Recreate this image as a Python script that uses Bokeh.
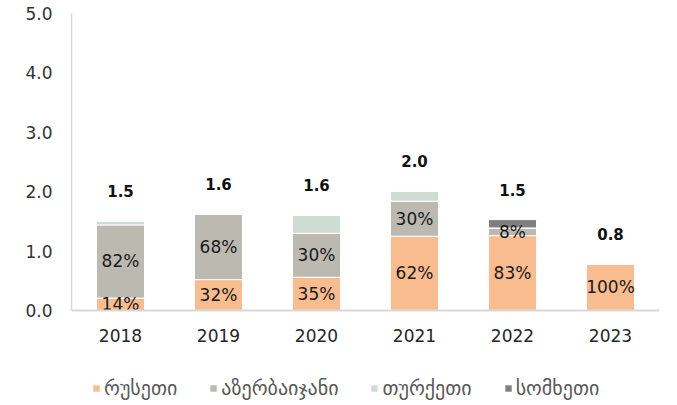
from bokeh.plotting import figure
from bokeh.layouts import column
from bokeh.models import ColumnDataSource, Range1d, FactorRange, Legend, LegendItem, NumeralTickFormatter, FixedTicker
from bokeh.embed import file_html
from bokeh.resources import INLINE
from bokeh.core.properties import value

years = ["2018", "2019", "2020", "2021", "2022", "2023"]
russia = [0.21, 0.52, 0.56, 1.25, 1.26, 0.78]
azerbaijan = [1.23, 1.10, 0.74, 0.59, 0.13, 0.0]
turkey = [0.06, 0.0, 0.30, 0.17, 0.0, 0.0]
armenia = [0.0, 0.0, 0.0, 0.0, 0.14, 0.0]
totals = ["1.5", "1.6", "1.6", "2.0", "1.5", "0.8"]
russia_pct = ["14%", "32%", "35%", "62%", "83%", "100%"]
azer_pct = ["82%", "68%", "30%", "30%", "8%", ""]
series_names = ["რუსეთი", "აზერბაიჯანი", "თურქეთი", "სომხეთი"]
colors = ["#F8BC8E", "#BCB9B0", "#CFDCD3", "#7F7F7F"]
y_ticks = [0, 1, 2, 3, 4, 5]

FONT = "DejaVu Sans"

data = dict(x=years, russia=russia, azerbaijan=azerbaijan, turkey=turkey, armenia=armenia)
src = ColumnDataSource(data)

p = figure(x_range=FactorRange(*years, range_padding=0), y_range=Range1d(0, 5),
           width=669, height=367, output_backend="svg", toolbar_location=None,
           min_border_left=71, min_border_right=10, min_border_top=13, min_border_bottom=57)
p.outline_line_color = None
p.xgrid.grid_line_color = None
p.ygrid.grid_line_color = None

stack_keys = ["russia", "azerbaijan", "turkey", "armenia"]
rs = p.vbar_stack(stack_keys, x="x", width=0.49, color=colors, line_color="white",
                  line_width=1, source=src)

# totals on top
tot_vals = [a + b + c + d for a, b, c, d in zip(russia, azerbaijan, turkey, armenia)]
tsrc = ColumnDataSource(dict(x=years, y=tot_vals, t=totals))
p.text(x="x", y="y", text="t", source=tsrc, y_offset=-30, text_align="center",
       text_baseline="middle", text_font=value(FONT), text_font_style="bold",
       text_font_size="15px", text_color="#111111")

# percent labels at segment middles
rmid = [r / 2 for r in russia]
amid = [r + a / 2 for r, a in zip(russia, azerbaijan)]
psrc = ColumnDataSource(dict(x=years + years, y=rmid + amid, t=russia_pct + azer_pct))
p.text(x="x", y="y", text="t", source=psrc, text_align="center",
       text_baseline="middle", text_font=value(FONT), text_font_size="17px",
       text_color="#1a1a1a")

# axes
p.yaxis.ticker = FixedTicker(ticks=y_ticks)
p.yaxis.formatter = NumeralTickFormatter(format="0.0")
p.yaxis.major_tick_line_color = None
p.yaxis.major_tick_out = 0
p.yaxis.major_tick_in = 0
p.yaxis.minor_tick_line_color = None
p.yaxis.axis_line_color = "#D9D9D9"
p.yaxis.axis_line_width = 1.5
p.yaxis.major_label_text_font = FONT
p.yaxis.major_label_text_font_size = "17px"
p.yaxis.major_label_text_color = "#333333"
p.yaxis.major_label_standoff = 19

p.xaxis.major_tick_line_color = None
p.xaxis.major_tick_out = 0
p.xaxis.major_tick_in = 0
p.xaxis.minor_tick_line_color = None
p.xaxis.axis_line_color = "#D9D9D9"
p.xaxis.axis_line_width = 2
p.xaxis.major_label_text_font = FONT
p.xaxis.major_label_text_font_size = "17px"
p.xaxis.major_label_text_color = "#262626"
p.xaxis.major_label_standoff = 18

# legend in a strip below the chart (frame aligned with the main chart)
lf = figure(width=669, height=33, output_backend="svg", toolbar_location=None,
            min_border_left=0, min_border_right=0, min_border_top=0, min_border_bottom=0,
            x_range=Range1d(0, 1), y_range=Range1d(0, 1),
            x_axis_type=None, y_axis_type=None)
lf.grid.visible = False
lf.outline_line_color = None
dummies = [lf.rect(x=[5], y=[5], width=0.1, height=0.1, fill_color=c, line_color=None)
           for c in colors]
legend = Legend(items=[LegendItem(label=n, renderers=[r]) for n, r in zip(series_names, dummies)],
                orientation="horizontal", location=(21, 0),
                label_text_font="DejaVu Sans", label_text_font_size="20px",
                label_text_color="#595959", glyph_width=8, glyph_height=8,
                label_standoff=4, spacing=32, padding=0, margin=0,
                border_line_color=None, background_fill_alpha=0)
lf.add_layout(legend, "center")

layout = column(p, lf, spacing=0)
open("out.html", "w").write(file_html(layout, INLINE))
